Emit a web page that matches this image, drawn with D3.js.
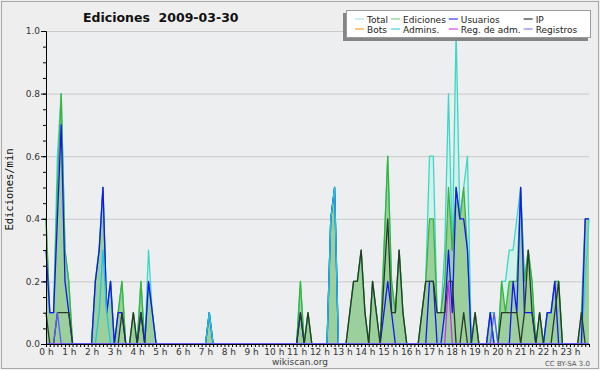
<!DOCTYPE html>
<html lang="es">
<head>
<meta charset="UTF-8">
<title>Ediciones 2009-03-30</title>
<script src="https://d3js.org/d3.v7.min.js"></script>
<style>
  body { margin: 0; background: #fff; }
  text { font-family: "DejaVu Sans", sans-serif; }
</style>
</head>
<body>
<script>
// valores por tramos de 10 minutos (ediciones/min), una fila = una hora
const hourLabels = ["0 h","1 h","2 h","3 h","4 h","5 h","6 h","7 h","8 h","9 h","10 h","11 h",
  "12 h","13 h","14 h","15 h","16 h","17 h","18 h","19 h","20 h","21 h","22 h","23 h"];

const total = [
  .4,.1,.1,.6,.8,.3,  .2,0,0,0,0,0,  0,.2,.3,.5,.1,.2,  0,.1,.2,0,0,.1,
  0,.2,0,.3,.1,0,  0,0,0,0,0,0,  0,0,0,0,0,0,  0,.1,0,0,0,0,
  0,0,0,0,0,0,  0,0,0,0,0,0,  0,0,0,0,0,0,  0,.2,0,.1,0,0,
  0,0,0,.4,.5,0,  0,0,.1,.2,.2,.3,  .1,0,.2,.1,0,.3,  .6,.2,.1,.3,.1,0,
  0,0,0,.1,.2,.6,  .6,.1,.1,.3,.8,.3,  1.0,.4,.5,.6,0,.1,  0,0,0,.1,.1,0,
  .2,.2,.3,.3,.4,.5,  .2,.3,.2,0,.1,0,  .1,.1,.2,.2,0,0,  0,0,0,0,.2,.4
];
const ediciones = [
  .4,.1,.1,.5,.8,.3,  .2,0,0,0,0,0,  0,.2,.3,.5,.1,.2,  0,.1,.2,0,0,.1,
  0,.2,0,.2,.1,0,  0,0,0,0,0,0,  0,0,0,0,0,0,  0,.1,0,0,0,0,
  0,0,0,0,0,0,  0,0,0,0,0,0,  0,0,0,0,0,0,  0,.2,0,.1,0,0,
  0,0,0,.4,.5,0,  0,0,.1,.2,.2,.3,  .1,0,.2,.1,0,.3,  .6,.2,.1,.3,.1,0,
  0,0,0,.1,.2,.4,  .4,.1,.1,.2,.5,.3,  .5,.4,.5,.3,0,.1,  0,0,0,.1,0,0,
  .2,.1,.2,.2,.2,.5,  .2,.3,.2,0,.1,0,  .1,.1,.2,.2,0,0,  0,0,0,.1,.4,.4
];
const usuarios = [
  .3,.1,.1,.4,.7,.2,  .1,0,0,0,0,0,  0,.2,.3,.5,.1,.2,  0,.1,.1,0,0,0,
  0,.1,0,.2,.1,0,  0,0,0,0,0,0,  0,0,0,0,0,0,  0,.1,0,0,0,0,
  0,0,0,0,0,0,  0,0,0,0,0,0,  0,0,0,0,0,0,  0,.1,0,0,0,0,
  0,0,0,.4,.5,0,  0,0,0,0,0,0,  0,0,0,0,0,.1,  .2,.1,0,0,0,0,
  0,0,0,0,0,.2,  .2,0,0,.1,.3,.1,  .5,.4,.4,.3,0,0,  0,0,0,.1,0,0,
  0,0,0,.2,.1,.5,  .1,.1,.1,0,0,0,  .1,.1,.2,0,0,0,  0,0,0,0,.4,.4
];
const ip = [
  .1,0,0,.1,.1,.1,  .1,0,0,0,0,0,  0,0,0,0,0,0,  0,0,.1,0,0,.1,
  0,.1,0,0,0,0,  0,0,0,0,0,0,  0,0,0,0,0,0,  0,0,0,0,0,0,
  0,0,0,0,0,0,  0,0,0,0,0,0,  0,0,0,0,0,0,  0,.1,0,.1,0,0,
  0,0,0,0,0,0,  0,0,.1,.2,.2,.3,  .1,0,.2,.1,0,.2,  .4,.1,.1,.3,.1,0,
  0,0,0,.1,.2,.2,  .2,.1,.1,.1,.2,.2,  0,0,.1,0,0,.1,  0,0,0,0,0,0,
  .1,.1,.1,.1,.1,0,  .1,.3,.1,0,.1,0,  0,0,.1,.2,0,0,  0,0,0,.1,0,0
];
const admins = [
  0,0,0,0,0,0,  0,0,0,0,0,0,  0,0,.1,.3,.1,0,  0,0,0,0,0,0,
  0,0,0,0,0,0,  0,0,0,0,0,0,  0,0,0,0,0,0,  0,.1,0,0,0,0,
  0,0,0,0,0,0,  0,0,0,0,0,0,  0,0,0,0,0,0,  0,0,0,0,0,0,
  0,0,0,.4,.5,0,  0,0,0,0,0,0,  0,0,0,0,0,0,  0,0,0,0,0,0,
  0,0,0,0,0,0,  0,0,0,0,0,0,  0,0,0,0,0,0,  0,0,0,0,0,0,
  0,0,0,0,0,0,  0,0,0,0,0,0,  0,0,0,0,0,0,  0,0,0,0,0,0
];
const regAdm = [
  0,0,0,0,0,0,  0,0,0,0,0,0,  0,0,0,0,0,0,  0,0,0,0,0,0,
  0,0,0,0,0,0,  0,0,0,0,0,0,  0,0,0,0,0,0,  0,0,0,0,0,0,
  0,0,0,0,0,0,  0,0,0,0,0,0,  0,0,0,0,0,0,  0,0,0,0,0,0,
  0,0,0,0,0,0,  0,0,0,0,0,0,  0,0,0,0,0,0,  0,0,0,0,0,0,
  0,0,0,0,0,0,  0,0,0,0,.2,0,  0,0,0,0,0,0,  0,0,0,0,0,0,
  0,0,0,0,0,0,  0,0,0,0,0,0,  0,0,0,0,0,0,  0,0,0,0,0,0
];
const registros = [
  0,0,0,.1,0,0,  0,0,0,0,0,0,  0,0,0,0,0,0,  0,0,0,0,0,0,
  0,0,0,0,0,0,  0,0,0,0,0,0,  0,0,0,0,0,0,  0,0,0,0,0,0,
  0,0,0,0,0,0,  0,0,0,0,0,0,  0,0,0,0,0,0,  0,0,0,0,0,0,
  0,0,0,0,0,0,  0,0,0,0,0,0,  0,0,0,0,0,0,  0,0,0,0,0,0,
  0,0,0,0,0,0,  0,0,0,0,0,0,  0,0,0,0,0,0,  0,0,0,0,.1,0,
  0,0,0,0,0,0,  0,0,0,0,0,0,  0,0,0,0,0,0,  0,0,0,0,0,0
];

const legendRows = [
  [["Total", "#a6e8e6"], ["Ediciones", "#80d480"], ["Usuarios", "#3434f0"], ["IP", "#333333"]],
  [["Bots", "#f4a030"], ["Admins.", "#40d0e4"], ["Reg. de adm.", "#e040e8"], ["Registros", "#8080f8"]]
];

const width = 600, height = 370;
const svg = d3.select("body").append("svg")
  .attr("width", width)
  .attr("height", height);

// fondo y marco
svg.append("rect").attr("width", width).attr("height", height).attr("fill", "#eeeeee");
svg.append("rect").attr("x", 1.5).attr("y", 1.5).attr("width", width - 3).attr("height", height - 3)
  .attr("fill", "none").attr("stroke", "#a8a8a8");

const x = d3.scaleLinear().domain([0, 143]).range([46, 589]);
const y = d3.scaleLinear().domain([0, 1]).range([344, 31]);

svg.append("rect").attr("x", x(0)).attr("y", y(1)).attr("width", x(143) - x(0)).attr("height", y(0) - y(1))
  .attr("fill", "#edeef0");

// rejilla
svg.append("g")
  .attr("transform", `translate(${x(0)},0)`)
  .call(d3.axisLeft(y).tickValues([0.2, 0.4, 0.6, 0.8, 1.0]).tickSize(-(x(143) - x(0))).tickFormat(""))
  .call(g => g.select(".domain").remove())
  .call(g => g.selectAll("line").attr("stroke", "#c9c9c9"));

const area = d3.area().x((d, i) => x(i)).y0(y(0)).y1(d => y(d));
const line = d3.line().x((d, i) => x(i)).y(d => y(d));

svg.append("path").datum(total).attr("d", area).attr("fill", "#d2f1ec");
svg.append("path").datum(ediciones).attr("d", area).attr("fill", "#9bcf9b");

const series = [
  [total, "#3ed6c6"],
  [ediciones, "#3cb43c"],
  [usuarios, "#1414ff"],
  [ip, "#2a3a2a"],
  [admins, "#22c4e4"],
  [regAdm, "#c23ce8"],
  [registros, "#5a5aff"]
];
series.forEach(s => {
  svg.append("path").datum(s[0]).attr("d", line)
    .attr("fill", "none").attr("stroke", s[1]).attr("stroke-width", 1.3)
    .attr("stroke-linejoin", "round");
});

// ejes
const xAxis = svg.append("g")
  .attr("transform", `translate(0,${y(0)})`)
  .call(d3.axisBottom(x).tickValues(d3.range(0, 144)).tickSize(3).tickSizeOuter(0)
    .tickFormat(d => d % 6 === 0 ? hourLabels[d / 6] : ""));
xAxis.selectAll("text").attr("font-size", 9).attr("fill", "#333").attr("dy", "0.55em")
  .attr("font-family", "DejaVu Sans");

const yMinor = svg.append("g")
  .attr("transform", `translate(${x(0)},0)`)
  .call(d3.axisLeft(y).tickValues(d3.range(0, 21).map(d => d / 20)).tickSize(3).tickSizeOuter(0).tickFormat(""));
const yAxis = svg.append("g")
  .attr("transform", `translate(${x(0)},0)`)
  .call(d3.axisLeft(y).tickValues([0, 0.2, 0.4, 0.6, 0.8, 1.0]).tickSize(5).tickSizeOuter(0).tickPadding(1)
    .tickFormat(d3.format(".1f")));
yAxis.selectAll("text").attr("font-size", 9).attr("fill", "#333").attr("font-family", "DejaVu Sans");
svg.selectAll(".domain").attr("stroke", "#000");
svg.selectAll(".tick line").filter(function () { return this.getAttribute("stroke") !== "#c9c9c9"; })
  .attr("stroke", "#000");

// textos
svg.append("text").attr("x", 83).attr("y", 22)
  .attr("font-size", 12.5).attr("font-weight", "bold").attr("fill", "#111")
  .style("white-space", "pre")
  .text("Ediciones  2009-03-30");

svg.append("text")
  .attr("transform", `translate(13,${(y(0) + y(1)) / 2 + 2}) rotate(-90)`)
  .attr("text-anchor", "middle")
  .style("font-family", "DejaVu Sans Mono")
  .attr("font-size", 10.5).attr("fill", "#111")
  .text("Ediciones/min");

svg.append("text").attr("x", 300).attr("y", 365).attr("text-anchor", "middle")
  .attr("font-size", 9).attr("fill", "#444").text("wikiscan.org");
svg.append("text").attr("x", 590).attr("y", 366).attr("text-anchor", "end")
  .attr("font-size", 7).attr("fill", "#555").text("CC BY-SA 3.0");

// leyenda
const lg = svg.append("g");
lg.append("rect").attr("x", 343).attr("y", 13).attr("width", 245).attr("height", 28).attr("fill", "#858585");
lg.append("rect").attr("x", 346.5).attr("y", 10.5).attr("width", 244).attr("height", 27)
  .attr("fill", "#fff").attr("stroke", "#9a9a9a");

let colX = 355;
for (let c = 0; c < 4; c++) {
  let w = 0;
  legendRows.forEach((row, r) => {
    const yy = 19 + r * 10;
    lg.append("line").attr("x1", colX).attr("x2", colX + 9).attr("y1", yy).attr("y2", yy)
      .attr("stroke", row[c][1]).attr("stroke-width", 1.2);
    const t = lg.append("text").attr("x", colX + 12).attr("y", yy + 3.5)
      .attr("font-size", 9).attr("fill", "#222").text(row[c][0]);
    w = Math.max(w, t.node().getComputedTextLength());
  });
  colX += 12 + w + 3;
}
</script>
</body>
</html>
